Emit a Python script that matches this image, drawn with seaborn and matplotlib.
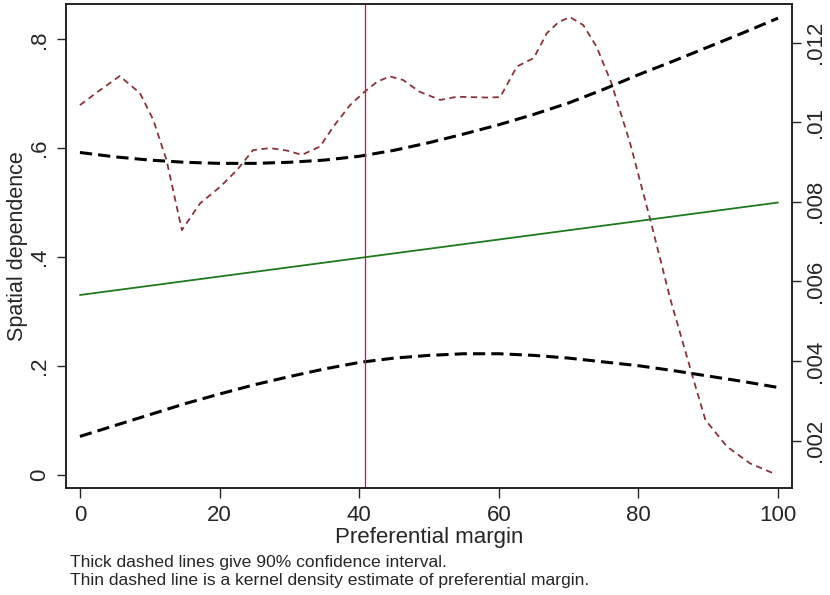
"""Marginal effect of spatial dependence over preferential margin."""

import matplotlib
matplotlib.use('Agg')
import matplotlib.pyplot as plt
import seaborn as sns

# grid of preferential margin values for the CI curves
margin = [0, 5, 10, 15, 20, 25, 30, 35, 40, 45, 50,
          55, 60, 65, 70, 75, 80, 85, 90, 95, 100]
upper_ci = [0.592, 0.584, 0.578, 0.574, 0.572, 0.572, 0.574, 0.578, 0.585, 0.596, 0.610,
            0.626, 0.643, 0.662, 0.683, 0.708, 0.735, 0.760, 0.786, 0.812, 0.839]
lower_ci = [0.070, 0.090, 0.110, 0.130, 0.148, 0.165, 0.180, 0.194, 0.206, 0.214, 0.219,
            0.222, 0.222, 0.219, 0.214, 0.207, 0.200, 0.191, 0.181, 0.171, 0.160]

# point estimate (straight line)
effect_x = [0, 100]
effect = [0.330, 0.500]

# kernel density of preferential margin (right axis)
density_x = [0, 2.9, 5.7, 8.6, 10.5, 12.4, 14.6, 17.2, 20.1, 22.5, 24.8, 27.2, 29.6,
             31.8, 34.4, 36.3, 38.7, 40.8, 42.6, 44.4, 46.3, 48.6, 51.6, 54.0, 58.3,
             60.2, 62.6, 65.0, 66.9, 68.6, 70.2, 72.1, 74.0, 76.1, 78.8, 81.7, 84.6,
             87.9, 89.6, 92.7, 96.0, 99.6]
density = [0.01043, 0.01081, 0.01116, 0.01073, 0.01006, 0.00905, 0.00729, 0.00796,
           0.00838, 0.00880, 0.00930, 0.00935, 0.00929, 0.00918, 0.00939, 0.00989,
           0.01043, 0.01077, 0.01102, 0.01115, 0.01106, 0.01077, 0.01056, 0.01064,
           0.01062, 0.01063, 0.01140, 0.01161, 0.01224, 0.01252, 0.01264, 0.01244,
           0.01190, 0.01100, 0.00948, 0.00755, 0.00554, 0.00353, 0.00252, 0.00185,
           0.00143, 0.00116]

cutoff = 40.85

x_ticks = [0, 20, 40, 60, 80, 100]
left_ticks = [0, 0.2, 0.4, 0.6, 0.8]
left_labels = ['0', '.2', '.4', '.6', '.8']
right_ticks = [0.002, 0.004, 0.006, 0.008, 0.010, 0.012]
right_labels = ['.002', '.004', '.006', '.008', '.01', '.012']

sns.set_style('ticks')
plt.rcParams['font.family'] = ['Liberation Sans', 'DejaVu Sans']

fig = plt.figure(figsize=(8.3, 5.95), dpi=100)
ax = fig.add_axes([0.0795, 0.1793, 0.8747, 0.814])
ax2 = ax.twinx()

# density on the right axis
sns.lineplot(x=density_x, y=density, ax=ax2, color='#8c3239', lw=1.3,
             linestyle=(0, (3.5, 2.5)))

# CI and point estimate on the left axis
sns.lineplot(x=margin, y=upper_ci, ax=ax, color='black', lw=2.2,
             linestyle=(0, (4, 2)))
sns.lineplot(x=margin, y=lower_ci, ax=ax, color='black', lw=2.2,
             linestyle=(0, (4, 2)))
sns.lineplot(x=effect_x, y=effect, ax=ax, color='#1f7a1f', lw=1.3)
ax.axvline(cutoff, color='#d4103c', lw=0.9)

ax.set_zorder(ax2.get_zorder() + 1)
ax.patch.set_visible(False)

ax.set_xlim(-2, 102)
ax.set_ylim(-0.0254, 0.865)
ax2.set_ylim(0.000804, 0.01297)

ax.set_xticks(x_ticks)
ax.set_xticklabels([str(t) for t in x_ticks])
ax.set_yticks(left_ticks)
ax.set_yticklabels(left_labels)
ax2.set_yticks(right_ticks)
ax2.set_yticklabels(right_labels)

ax.tick_params(axis='x', length=7, width=1, pad=5, labelsize=16)
ax.tick_params(axis='y', length=6.5, width=1, pad=5, labelsize=16, labelrotation=90)
ax2.tick_params(axis='y', length=6.5, width=1, pad=3, labelsize=16, labelrotation=90)
for lbl in ax.get_yticklabels() + ax2.get_yticklabels():
    lbl.set_va('center')

for a in (ax, ax2):
    for s in a.spines.values():
        s.set_visible(True)
        s.set_linewidth(1.2)
        s.set_color('#222222')

ax.set_xlabel('Preferential margin', fontsize=16, labelpad=1)
ax.set_ylabel('Spatial dependence', fontsize=15.5, labelpad=1)
ax2.set_ylabel('')

fig.text(70 / 830, 1 - 563 / 595, 'Thick dashed lines give 90% confidence interval.',
         fontsize=12.6, va='center', ha='left')
fig.text(70 / 830, 1 - 581 / 595,
         'Thin dashed line is a kernel density estimate of preferential margin.',
         fontsize=12.6, va='center', ha='left')

fig.savefig('out.png', dpi=100)
